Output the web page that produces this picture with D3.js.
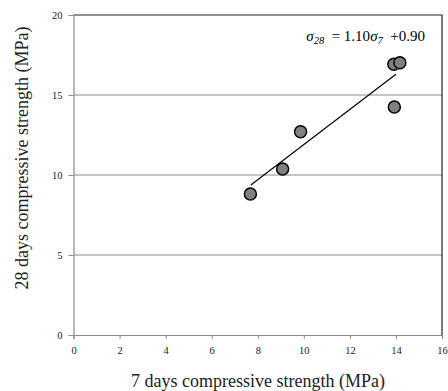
<!DOCTYPE html>
<html>
<head>
<meta charset="utf-8">
<script src="https://cdn.jsdelivr.net/npm/d3@7"></script>
<style>
  body { margin: 0; background: #fff; }
  text { font-family: "Liberation Serif", "Times New Roman", serif; }
</style>
</head>
<body>
<div id="chart"></div>
<script>
// data
const strength7 = [7.68, 9.08, 9.86, 13.93, 13.91, 14.17]
const strength28 = [8.81, 10.38, 12.7, 14.25, 16.92, 17.02]
const xTicks = [0, 2, 4, 6, 8, 10, 12, 14, 16]
const yTicks = [0, 5, 10, 15, 20]
const fitSlope = 1.10
const fitIntercept = 0.90
const fitRange = [7.7, 14.0]

const width = 448
const height = 391
const margin = { top: 15, right: 6, bottom: 56, left: 73.5 }

const svg = d3
  .select('#chart')
  .append('svg')
  .attr('width', width)
  .attr('height', height)

const x = d3
  .scaleLinear()
  .domain([0, 16])
  .range([margin.left, width - margin.right])
const y = d3
  .scaleLinear()
  .domain([0, 20])
  .range([height - margin.bottom, margin.top])

// horizontal grid lines
svg
  .append('g')
  .selectAll('line')
  .data(yTicks.slice(1, -1))
  .enter()
  .append('line')
  .attr('x1', x(0))
  .attr('x2', x(16))
  .attr('y1', d => y(d))
  .attr('y2', d => y(d))
  .attr('stroke', '#8c8c8c')
  .attr('stroke-width', 1)

// plot frame (top and right dark)
svg
  .append('path')
  .attr('d', `M${x(0)},${y(20)}H${x(16)}V${y(0)}`)
  .attr('fill', 'none')
  .attr('stroke', '#222')
  .attr('stroke-width', 1.2)

// Y axis
const yAxis = svg
  .append('g')
  .attr('transform', 'translate(' + x(0) + ',0)')
  .call(d3.axisLeft(y).tickValues(yTicks).tickSize(5).tickPadding(6))
yAxis.attr('font-family', null)
yAxis.select('.domain').attr('stroke', '#8c8c8c').attr('stroke-width', 1.2)
yAxis.selectAll('.tick line').attr('stroke', '#8c8c8c')
yAxis.selectAll('text').attr('font-size', 10.5).attr('fill', '#222')

// X axis
const xAxis = svg
  .append('g')
  .attr('transform', 'translate(0,' + y(0) + ')')
  .call(d3.axisBottom(x).tickValues(xTicks).tickSize(4).tickPadding(8))
xAxis.attr('font-family', null)
xAxis.select('.domain').attr('stroke', '#8c8c8c').attr('stroke-width', 1.2)
xAxis.selectAll('.tick line').attr('stroke', '#8c8c8c')
xAxis.selectAll('text').attr('font-size', 10.5).attr('fill', '#222')

// trend line
svg
  .append('line')
  .attr('x1', x(fitRange[0]))
  .attr('y1', y(fitSlope * fitRange[0] + fitIntercept))
  .attr('x2', x(fitRange[1]))
  .attr('y2', y(fitSlope * fitRange[1] + fitIntercept))
  .attr('stroke', '#000')
  .attr('stroke-width', 1.2)

// points
svg
  .append('g')
  .selectAll('circle')
  .data(strength7.map((d, i) => [d, strength28[i]]))
  .enter()
  .append('circle')
  .attr('cx', d => x(d[0]))
  .attr('cy', d => y(d[1]))
  .attr('r', 6)
  .attr('fill', '#808080')
  .attr('stroke', '#000')
  .attr('stroke-width', 1.5)

// equation
const eq = svg
  .append('text')
  .attr('x', 425)
  .attr('y', 41)
  .attr('text-anchor', 'end')
  .attr('font-size', 15)
  .attr('fill', '#000')
eq.append('tspan').attr('font-style', 'italic').text('σ')
eq.append('tspan').attr('font-style', 'italic').attr('font-size', 10.5).attr('dy', 3).text('28')
eq.append('tspan').attr('dy', -3).text('\u00a0 = 1.10')
eq.append('tspan').attr('font-style', 'italic').text('σ')
eq.append('tspan').attr('font-style', 'italic').attr('font-size', 10.5).attr('dy', 3).text('7')
eq.append('tspan').attr('dy', -3).text('\u00a0 +0.90')

// axis titles
svg
  .append('text')
  .attr('x', 258)
  .attr('y', 387)
  .attr('text-anchor', 'middle')
  .attr('font-size', 18)
  .attr('fill', '#222')
  .text('7 days compressive strength (MPa)')

svg
  .append('text')
  .attr('transform', 'translate(22,158) rotate(-90)')
  .attr('text-anchor', 'middle')
  .attr('dy', '0.35em')
  .attr('font-size', 18)
  .attr('fill', '#222')
  .text('28 days compressive strength (MPa)')
</script>
</body>
</html>
